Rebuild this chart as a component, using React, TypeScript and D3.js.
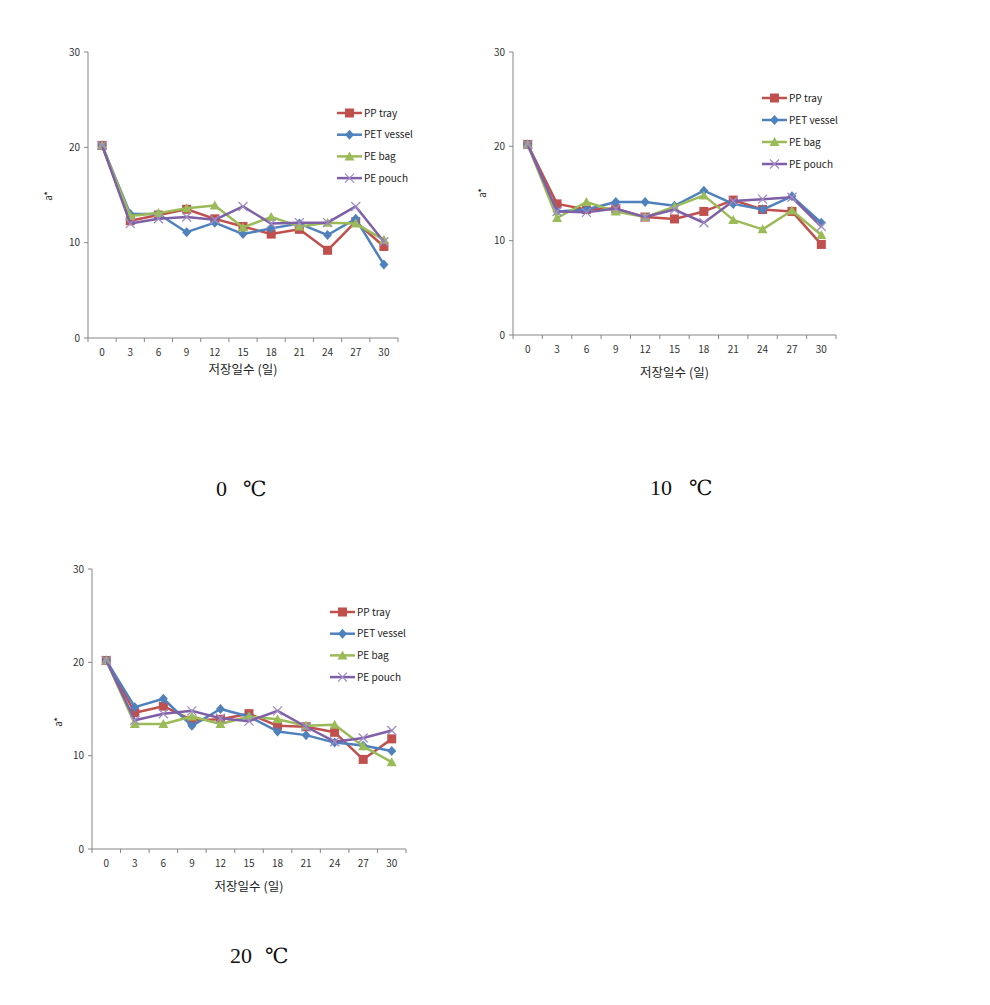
import React from "react";
import * as d3 from "d3";

const days = ["0", "3", "6", "9", "12", "15", "18", "21", "24", "27", "30"];
const yTicks = [0, 10, 20, 30];
const seriesNames = ["PP tray", "PET vessel", "PE bag", "PE pouch"];
const seriesColors = ["#C0504D", "#4F81BD", "#9BBB59", "#7F5FA6"];
const markerKinds = ["square", "diamond", "triangle", "x"];

// 0 ℃
const t0PP = [20.2, 12.3, 12.9, 13.5, 12.5, 11.7, 10.9, 11.4, 9.2, 12.2, 9.6];
const t0PET = [20.2, 13.0, 13.0, 11.1, 12.1, 10.9, 11.5, 12.0, 10.8, 12.5, 7.7];
const t0Bag = [20.2, 12.8, 13.1, 13.6, 13.9, 11.6, 12.7, 11.7, 12.1, 12.0, 10.3];
const t0Pouch = [20.2, 12.0, 12.5, 12.7, 12.4, 13.8, 12.0, 12.1, 12.1, 13.8, 10.1];

// 10 ℃
const t10PP = [20.2, 13.9, 13.3, 13.4, 12.5, 12.3, 13.1, 14.3, 13.3, 13.1, 9.6];
const t10PET = [20.2, 13.1, 13.3, 14.1, 14.1, 13.7, 15.3, 13.9, 13.3, 14.7, 11.9];
const t10Bag = [20.2, 12.4, 14.1, 13.1, 12.5, 13.6, 14.8, 12.2, 11.2, 13.2, 10.6];
const t10Pouch = [20.2, 13.1, 13.0, 13.4, 12.5, 13.3, 11.9, 14.2, 14.4, 14.6, 11.5];

// 20 ℃
const t20PP = [20.2, 14.6, 15.3, 13.8, 13.9, 14.5, 13.2, 13.1, 12.5, 9.6, 11.8];
const t20PET = [20.2, 15.2, 16.1, 13.2, 15.0, 14.2, 12.6, 12.2, 11.4, 11.1, 10.5];
const t20Bag = [20.2, 13.4, 13.4, 14.2, 13.4, 14.2, 13.9, 13.2, 13.3, 11.0, 9.3];
const t20Pouch = [20.2, 13.8, 14.5, 14.8, 14.0, 13.7, 14.8, 13.1, 11.5, 11.9, 12.7];

const xTitle = "저장일수 (일)";
const yTitle = "a*";

const panels = [
  {
    temp: "0", data: [t0PP, t0PET, t0Bag, t0Pouch],
    x0: 88, x1: 398, yTop: 52, yBot: 338, xTitleY: 374, yTitleX: 52, yTitleY: 196,
    legX: 337, legY: 113, legDy: 21.7, numEnd: 227, degX: 243, capY: 496,
  },
  {
    temp: "10", data: [t10PP, t10PET, t10Bag, t10Pouch],
    x0: 513, x1: 836, yTop: 52, yBot: 335, xTitleY: 377, yTitleX: 486, yTitleY: 193,
    legX: 762, legY: 98, legDy: 22, numEnd: 672, degX: 689, capY: 495,
  },
  {
    temp: "20", data: [t20PP, t20PET, t20Bag, t20Pouch],
    x0: 92, x1: 406, yTop: 569, yBot: 849, xTitleY: 891, yTitleX: 62, yTitleY: 722,
    legX: 330, legY: 612, legDy: 21.7, numEnd: 252, degX: 265, capY: 963,
  },
];

const font = "'Noto Sans CJK KR', 'Noto Sans', sans-serif";
const serif = "'Liberation Serif', 'DejaVu Serif', serif";

function Marker({ kind, x, y, color }: { kind: string; x: number; y: number; color: string }) {
  if (kind === "square") return <rect x={x - 4.5} y={y - 4.5} width={9} height={9} fill={color} />;
  if (kind === "diamond")
    return <path d={`M${x},${y - 5}L${x + 4.5},${y}L${x},${y + 5}L${x - 4.5},${y}Z`} fill={color} />;
  if (kind === "triangle")
    return <path d={`M${x},${y - 5}L${x + 5},${y + 4}L${x - 5},${y + 4}Z`} fill={color} />;
  return (
    <path d={`M${x - 4.5},${y - 4.5}L${x + 4.5},${y + 4.5}M${x - 4.5},${y + 4.5}L${x + 4.5},${y - 4.5}`}
      stroke="#A08CC4" strokeWidth={1.3} fill="none" />
  );
}

function Panel({ p }: { p: (typeof panels)[number] }) {
  const x = d3.scaleBand<string>().domain(days).range([p.x0, p.x1]).padding(0);
  const y = d3.scaleLinear().domain([0, 30]).range([p.yBot, p.yTop]);
  const cx = (i: number) => (x(days[i]) as number) + x.bandwidth() / 2;
  const line = d3.line<number>().x((_, i) => cx(i)).y((v) => y(v));
  const boundaries = days.map((d) => x(d) as number).concat([p.x1]);
  return (
    <g>
      <line x1={p.x0} x2={p.x0} y1={p.yTop} y2={p.yBot} stroke="#868686" />
      <line x1={p.x0} x2={p.x1} y1={p.yBot} y2={p.yBot} stroke="#868686" />
      {yTicks.map((t) => (
        <g key={t}>
          <line x1={p.x0 - 4} x2={p.x0} y1={y(t)} y2={y(t)} stroke="#868686" />
          <text x={p.x0 - 8} y={y(t)} dy="0.35em" textAnchor="end" fontSize={10} fill="#333" fontFamily={font}>{t}</text>
        </g>
      ))}
      {boundaries.map((b, i) => (
        <line key={i} x1={b} x2={b} y1={p.yBot} y2={p.yBot + 4} stroke="#868686" />
      ))}
      {days.map((d, i) => (
        <text key={d} x={cx(i)} y={p.yBot + 18} textAnchor="middle" fontSize={10} fill="#333" fontFamily={font}>{d}</text>
      ))}
      <text x={(p.x0 + p.x1) / 2} y={p.xTitleY} textAnchor="middle" fontSize={12.5} fill="#222" fontFamily={font}>{xTitle}</text>
      <text transform={`translate(${p.yTitleX},${p.yTitleY}) rotate(-90)`} textAnchor="middle" fontSize={10} fill="#222" fontFamily={font}>{yTitle}</text>
      {p.data.map((vals, si) => (
        <g key={si}>
          <path d={line(vals) as string} fill="none" stroke={seriesColors[si]} strokeWidth={2.5} strokeLinejoin="round" />
          {vals.map((v, i) => (
            <Marker key={i} kind={markerKinds[si]} x={cx(i)} y={y(v)} color={seriesColors[si]} />
          ))}
        </g>
      ))}
      {seriesNames.map((n, si) => {
        const ly = p.legY + si * p.legDy;
        return (
          <g key={n}>
            <line x1={p.legX} x2={p.legX + 25} y1={ly} y2={ly} stroke={seriesColors[si]} strokeWidth={2.5} />
            <Marker kind={markerKinds[si]} x={p.legX + 12.5} y={ly} color={seriesColors[si]} />
            <text x={p.legX + 27} y={ly} dy="0.35em" fontSize={10} fill="#222" fontFamily={font}>{n}</text>
          </g>
        );
      })}
      <text x={p.numEnd} y={p.capY} textAnchor="end" fontSize={22} fill="#111" fontFamily={serif}>{p.temp}</text>
      <text x={p.degX} y={p.capY} textAnchor="start" fontSize={21} fill="#111" fontFamily={serif}>℃</text>
    </g>
  );
}

export default function App() {
  return (
    <svg width={990} height={1005} style={{ position: "absolute", left: 0, top: 0, background: "#fff" }}>
      <rect width={990} height={1005} fill="#fff" />
      {panels.map((p, i) => (
        <Panel key={i} p={p} />
      ))}
    </svg>
  );
}
